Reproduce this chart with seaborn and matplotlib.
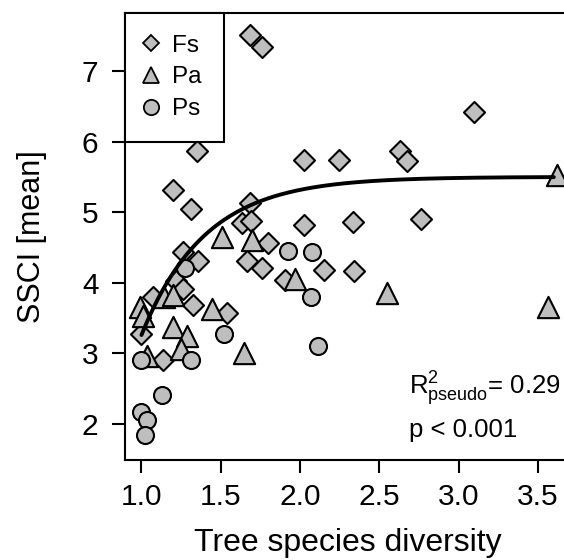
import numpy as np
import pandas as pd
import matplotlib
matplotlib.use("Agg")
import matplotlib.pyplot as plt
from matplotlib.lines import Line2D
import seaborn as sns

# data
fs_x = [1.684, 1.760, 1.348, 1.197, 2.025, 2.247, 2.630, 2.676, 3.097, 2.025,
        2.332, 2.760, 2.151, 2.342, 1.312, 1.684, 1.632, 1.688, 1.800, 1.663,
        1.758, 1.264, 1.358, 1.905, 1.218, 1.264, 1.074, 1.327, 1.537, 0.995,
        1.134]
fs_y = [7.51, 7.34, 5.87, 5.32, 5.74, 5.74, 5.86, 5.73, 6.42, 4.82,
        4.86, 4.90, 4.18, 4.17, 5.04, 5.13, 4.84, 4.87, 4.56, 4.31,
        4.21, 4.43, 4.31, 4.04, 4.02, 3.91, 3.80, 3.69, 3.57, 3.27,
        2.91]
pa_x = [3.620, 3.565, 2.546, 1.510, 1.700, 1.968, 0.990, 1.010, 1.139, 1.199,
        1.445, 1.200, 1.289, 1.250, 1.648, 1.035]
pa_y = [5.53, 3.65, 3.85, 4.65, 4.60, 4.06, 3.65, 3.53, 3.80, 3.82,
        3.63, 3.37, 3.25, 3.06, 3.01, 2.96]
ps_x = [1.926, 2.073, 2.067, 2.115, 1.274, 1.520, 0.995, 1.310, 1.127, 0.995,
        1.033, 1.022]
ps_y = [4.45, 4.44, 3.80, 3.11, 4.21, 3.28, 2.90, 2.90, 2.41, 2.17,
        2.05, 1.84]

species = ["Fs", "Pa", "Ps"]
markers = {"Fs": "D", "Pa": "^", "Ps": "o"}
sizes = {"Fs": 115, "Pa": 235, "Ps": 150}
legend_ms = {"Fs": 8.5, "Pa": 12, "Ps": 11}

# fitted saturating curve (asymptote, amplitude, rate)
fit_a, fit_b, fit_c = 5.50, 2.24, 2.50
fit_range = (1.0, 3.6)

df = pd.DataFrame({
    "diversity": fs_x + pa_x + ps_x,
    "ssci": fs_y + pa_y + ps_y,
    "species": ["Fs"] * len(fs_x) + ["Pa"] * len(pa_x) + ["Ps"] * len(ps_x),
})

sns.set_style("ticks")
plt.rcParams["font.family"] = ["Liberation Sans", "DejaVu Sans"]
plt.rcParams["mathtext.fontset"] = "custom"
plt.rcParams["mathtext.rm"] = "Liberation Sans"
plt.rcParams["mathtext.it"] = "Liberation Sans:italic"
for k in ["text.color", "axes.labelcolor", "xtick.color", "ytick.color",
          "xtick.labelcolor", "ytick.labelcolor"]:
    plt.rcParams[k] = "black"

fig = plt.figure(figsize=(5.64, 5.60), dpi=100)
ax = fig.add_axes([0.2216, 0.1786, 0.7896, 0.7988])

grey = "#bebebe"
for sp in species:
    sub = df[df["species"] == sp]
    sns.scatterplot(data=sub, x="diversity", y="ssci", marker=markers[sp],
                    s=sizes[sp], color=grey, edgecolor="black", linewidth=1.5,
                    ax=ax, zorder=3, legend=False)

xs = np.linspace(fit_range[0], fit_range[1], 200)
ax.plot(xs, fit_a - fit_b * np.exp(-fit_c * (xs - 1.0)), color="black",
        lw=2.8, zorder=4)

ax.set_xlim(0.896, 3.704)
ax.set_ylim(1.49, 7.826)
ax.set_xticks([1.0, 1.5, 2.0, 2.5, 3.0, 3.5])
ax.set_xticklabels(["1.0", "1.5", "2.0", "2.5", "3.0", "3.5"])
ax.set_yticks([2, 3, 4, 5, 6, 7])
ax.tick_params(direction="out", length=9.5, width=1.5, labelsize=21.5,
               colors="black")
ax.tick_params(axis="x", pad=7)
ax.tick_params(axis="y", pad=9.5)
for s in ax.spines.values():
    s.set_linewidth(1.5)
    s.set_color("black")
    s.set_visible(True)

ax.set_xlabel("Tree species diversity", fontsize=23, labelpad=12)
ax.set_ylabel("SSCI [mean]", fontsize=22, labelpad=25)

ax.text(2.687, 2.41, r"R$^{2}_{\mathrm{pseudo}}$= 0.29", fontsize=18.5,
        va="baseline", ha="left")
ax.text(2.687, 1.81, "p < 0.001", fontsize=18.5, va="baseline", ha="left")

handles = [Line2D([], [], marker=markers[sp], ms=legend_ms[sp], ls="none",
                  mfc=grey, mec="black", mew=1.3) for sp in species]
leg = ax.legend(handles, species, loc="upper left", bbox_to_anchor=(0, 1),
                borderaxespad=0, fancybox=False, edgecolor="black",
                framealpha=1, fontsize=17.5, handlelength=0.3,
                handletextpad=0.75, labelspacing=0.40, borderpad=0.9)
leg.get_frame().set_linewidth(1.5)

fig.savefig("out.png", dpi=100)
